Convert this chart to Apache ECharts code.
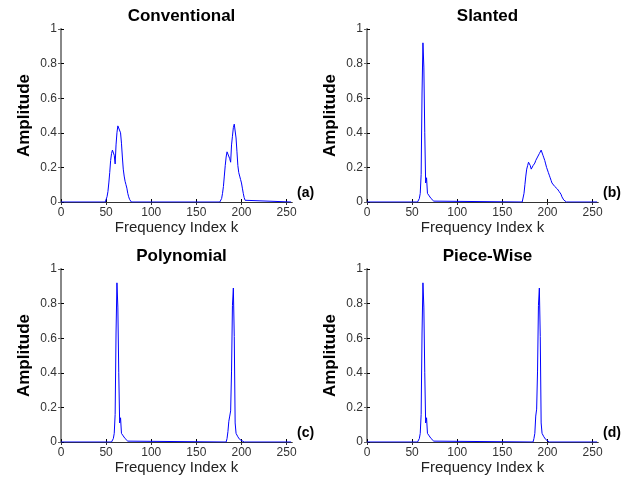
<!DOCTYPE html>
<html>
<head>
<meta charset="utf-8">
<script src="https://cdn.jsdelivr.net/npm/echarts@6/dist/echarts.min.js"></script>
<style>
  html, body { margin: 0; padding: 0; background: #fff; }
  #main { width: 629px; height: 484px; }
</style>
</head>
<body>
<div id="main"></div>
<script>
// panel titles and tags
var titles = ['Conventional', 'Slanted', 'Polynomial', 'Piece-Wise'];
var tags = ['(a)', '(b)', '(c)', '(d)'];
var xTicks = [0, 50, 100, 150, 200, 250];

// [k, amplitude]
var conventional = [
  [0, 0], [49, 0], [50, 0.01], [51, 0.03], [52, 0.06], [53, 0.11], [54, 0.17],
  [55, 0.24], [56, 0.28], [57, 0.30], [58, 0.31], [59, 0.27], [60, 0.22], [61, 0.33],
  [62, 0.40], [63, 0.44], [64, 0.45], [65, 0.43], [66, 0.40], [67, 0.34], [68, 0.26],
  [69, 0.19], [70, 0.15], [71, 0.12], [72, 0.10], [73, 0.08], [74, 0.05], [75, 0.03],
  [76, 0.015], [77, 0.005], [78, 0],
  [176, 0], [177, 0.005], [178, 0.02], [179, 0.05], [180, 0.09], [181, 0.15], [182, 0.21],
  [183, 0.26], [184, 0.29], [185, 0.30], [186, 0.28], [187, 0.25], [188, 0.23], [189, 0.33],
  [190, 0.38], [191, 0.43], [192, 0.45], [193, 0.44], [194, 0.37], [195, 0.29], [196, 0.21],
  [197, 0.17], [198, 0.15], [199, 0.13], [200, 0.11], [201, 0.08], [202, 0.05], [203, 0.025],
  [204, 0.01], [205, 0], [255, 0]
];

var slanted = [
  [0, 0], [56, 0], [57, 0.01], [58, 0.02], [59, 0.05], [60, 0.16], [61, 0.63],
  [62, 0.92], [63, 0.78], [64, 0.40], [65, 0.11], [66, 0.14], [67, 0.05], [68, 0.04],
  [69, 0.035], [70, 0.03], [71, 0.02], [72, 0.015], [73, 0.01], [74, 0.005], [76, 0],
  [172, 0], [173, 0.01], [174, 0.05], [175, 0.10], [176, 0.15], [177, 0.19], [178, 0.21],
  [179, 0.23], [180, 0.235], [181, 0.21], [182, 0.19], [183, 0.20], [184, 0.21], [185, 0.215],
  [186, 0.225], [187, 0.24], [188, 0.25], [189, 0.26], [190, 0.27], [191, 0.28], [192, 0.29],
  [193, 0.30], [194, 0.29], [195, 0.27], [196, 0.255], [197, 0.24], [198, 0.22], [199, 0.20],
  [200, 0.185], [201, 0.17], [202, 0.155], [203, 0.14], [204, 0.125], [205, 0.11], [206, 0.105],
  [207, 0.10], [208, 0.09], [209, 0.085], [210, 0.08], [211, 0.075], [212, 0.07], [213, 0.06],
  [214, 0.05], [215, 0.045], [216, 0.03], [217, 0.02], [218, 0.012], [219, 0.008], [220, 0.004],
  [221, 0], [255, 0]
];

var polynomial = [
  [0, 0], [56, 0], [57, 0.01], [58, 0.02], [59, 0.05], [60, 0.16], [61, 0.63],
  [62, 0.92], [63, 0.78], [64, 0.40], [65, 0.11], [66, 0.14], [67, 0.05], [68, 0.04],
  [69, 0.035], [70, 0.03], [71, 0.02], [72, 0.015], [73, 0.01], [74, 0.005], [76, 0],
  [183, 0], [184, 0.02], [185, 0.06], [186, 0.12], [187, 0.15], [188, 0.18], [189, 0.41],
  [190, 0.79], [191, 0.89], [192, 0.61], [193, 0.11], [194, 0.05], [195, 0.04], [196, 0.03],
  [197, 0.02], [198, 0.015], [199, 0.01], [200, 0.005], [203, 0], [255, 0]
];

var pieceWise = [
  [0, 0], [56, 0], [57, 0.01], [58, 0.02], [59, 0.05], [60, 0.16], [61, 0.63],
  [62, 0.92], [63, 0.78], [64, 0.40], [65, 0.11], [66, 0.14], [67, 0.05], [68, 0.04],
  [69, 0.035], [70, 0.03], [71, 0.02], [72, 0.015], [73, 0.01], [74, 0.005], [76, 0],
  [184, 0], [185, 0.02], [186, 0.05], [187, 0.15], [188, 0.19], [189, 0.41], [190, 0.79],
  [191, 0.89], [192, 0.61], [193, 0.11], [194, 0.05], [195, 0.045], [196, 0.03], [197, 0.02],
  [198, 0.015], [199, 0.01], [200, 0.005], [202, 0], [255, 0]
];

var panels = [conventional, slanted, polynomial, pieceWise];

var myChart = echarts.init(document.getElementById('main'), null, { renderer: 'canvas' });

var font = 'Liberation Sans, Arial, sans-serif';
var lefts = [61, 367, 61, 367];
var tops = [29, 29, 269, 269];
var W = 231, H = 173;

var grid = [], xAxis = [], yAxis = [], series = [], title = [], graphic = [];

for (var i = 0; i < 4; i++) {
  grid.push({ left: lefts[i], top: tops[i], width: W, height: H, show: false });

  // bottom axis
  xAxis.push({
    type: 'value', gridIndex: i, min: 0, max: 256, position: 'bottom',
    name: 'Frequency Index k', nameLocation: 'middle', nameGap: 16,
    nameTextStyle: { fontFamily: font, fontSize: 15, color: '#222' },
    axisLine: { show: true, lineStyle: { color: '#000', width: 1 } },
    axisTick: { show: true, inside: true, length: 3, customValues: xTicks, lineStyle: { color: '#000' } },
    axisLabel: { customValues: xTicks, fontFamily: font, fontSize: 12, color: '#333', margin: 5 },
    splitLine: { show: false }
  });
  // top frame
  xAxis.push({
    type: 'value', gridIndex: i, min: 0, max: 256, position: 'top',
    axisLine: { show: true, lineStyle: { color: '#333', width: 1 } },
    axisTick: { show: true, inside: true, length: 3, customValues: xTicks, lineStyle: { color: '#333' } },
    axisLabel: { show: false },
    splitLine: { show: false }
  });
  // left axis
  yAxis.push({
    type: 'value', gridIndex: i, min: 0, max: 1, interval: 0.2, position: 'left',
    name: 'Amplitude', nameLocation: 'middle', nameGap: 28,
    nameTextStyle: { fontFamily: font, fontSize: 17, fontWeight: 'bold', color: '#000' },
    axisLine: { show: true, lineStyle: { color: '#000', width: 1 } },
    axisTick: { show: true, inside: true, length: 3, lineStyle: { color: '#000' } },
    axisLabel: { fontFamily: font, fontSize: 12, color: '#333', margin: 4 },
    splitLine: { show: false }
  });
  // right frame
  yAxis.push({
    type: 'value', gridIndex: i, min: 0, max: 1, interval: 0.2, position: 'right',
    axisLine: { show: true, lineStyle: { color: '#888', width: 2 } },
    axisTick: { show: true, inside: true, length: 3, lineStyle: { color: '#666' } },
    axisLabel: { show: false },
    splitLine: { show: false }
  });

  series.push({
    type: 'line', xAxisIndex: 2 * i, yAxisIndex: 2 * i,
    data: panels[i], showSymbol: false, symbol: 'none', silent: true, z: 5,
    lineStyle: { color: '#0000ff', width: 1 }
  });

  title.push({
    text: titles[i], left: lefts[i] + W / 2, top: tops[i] - 26, textAlign: 'center',
    textStyle: { fontFamily: font, fontSize: 17, fontWeight: 'bold', color: '#000' }
  });

  graphic.push({
    type: 'text', left: lefts[i] + W + 5, top: tops[i] + H - 16,
    style: { text: tags[i], font: 'bold 14px ' + font, fill: '#000' }
  });
}

myChart.setOption({
  animation: false,
  title: title,
  grid: grid,
  xAxis: xAxis,
  yAxis: yAxis,
  series: series,
  graphic: graphic
});
</script>
</body>
</html>
